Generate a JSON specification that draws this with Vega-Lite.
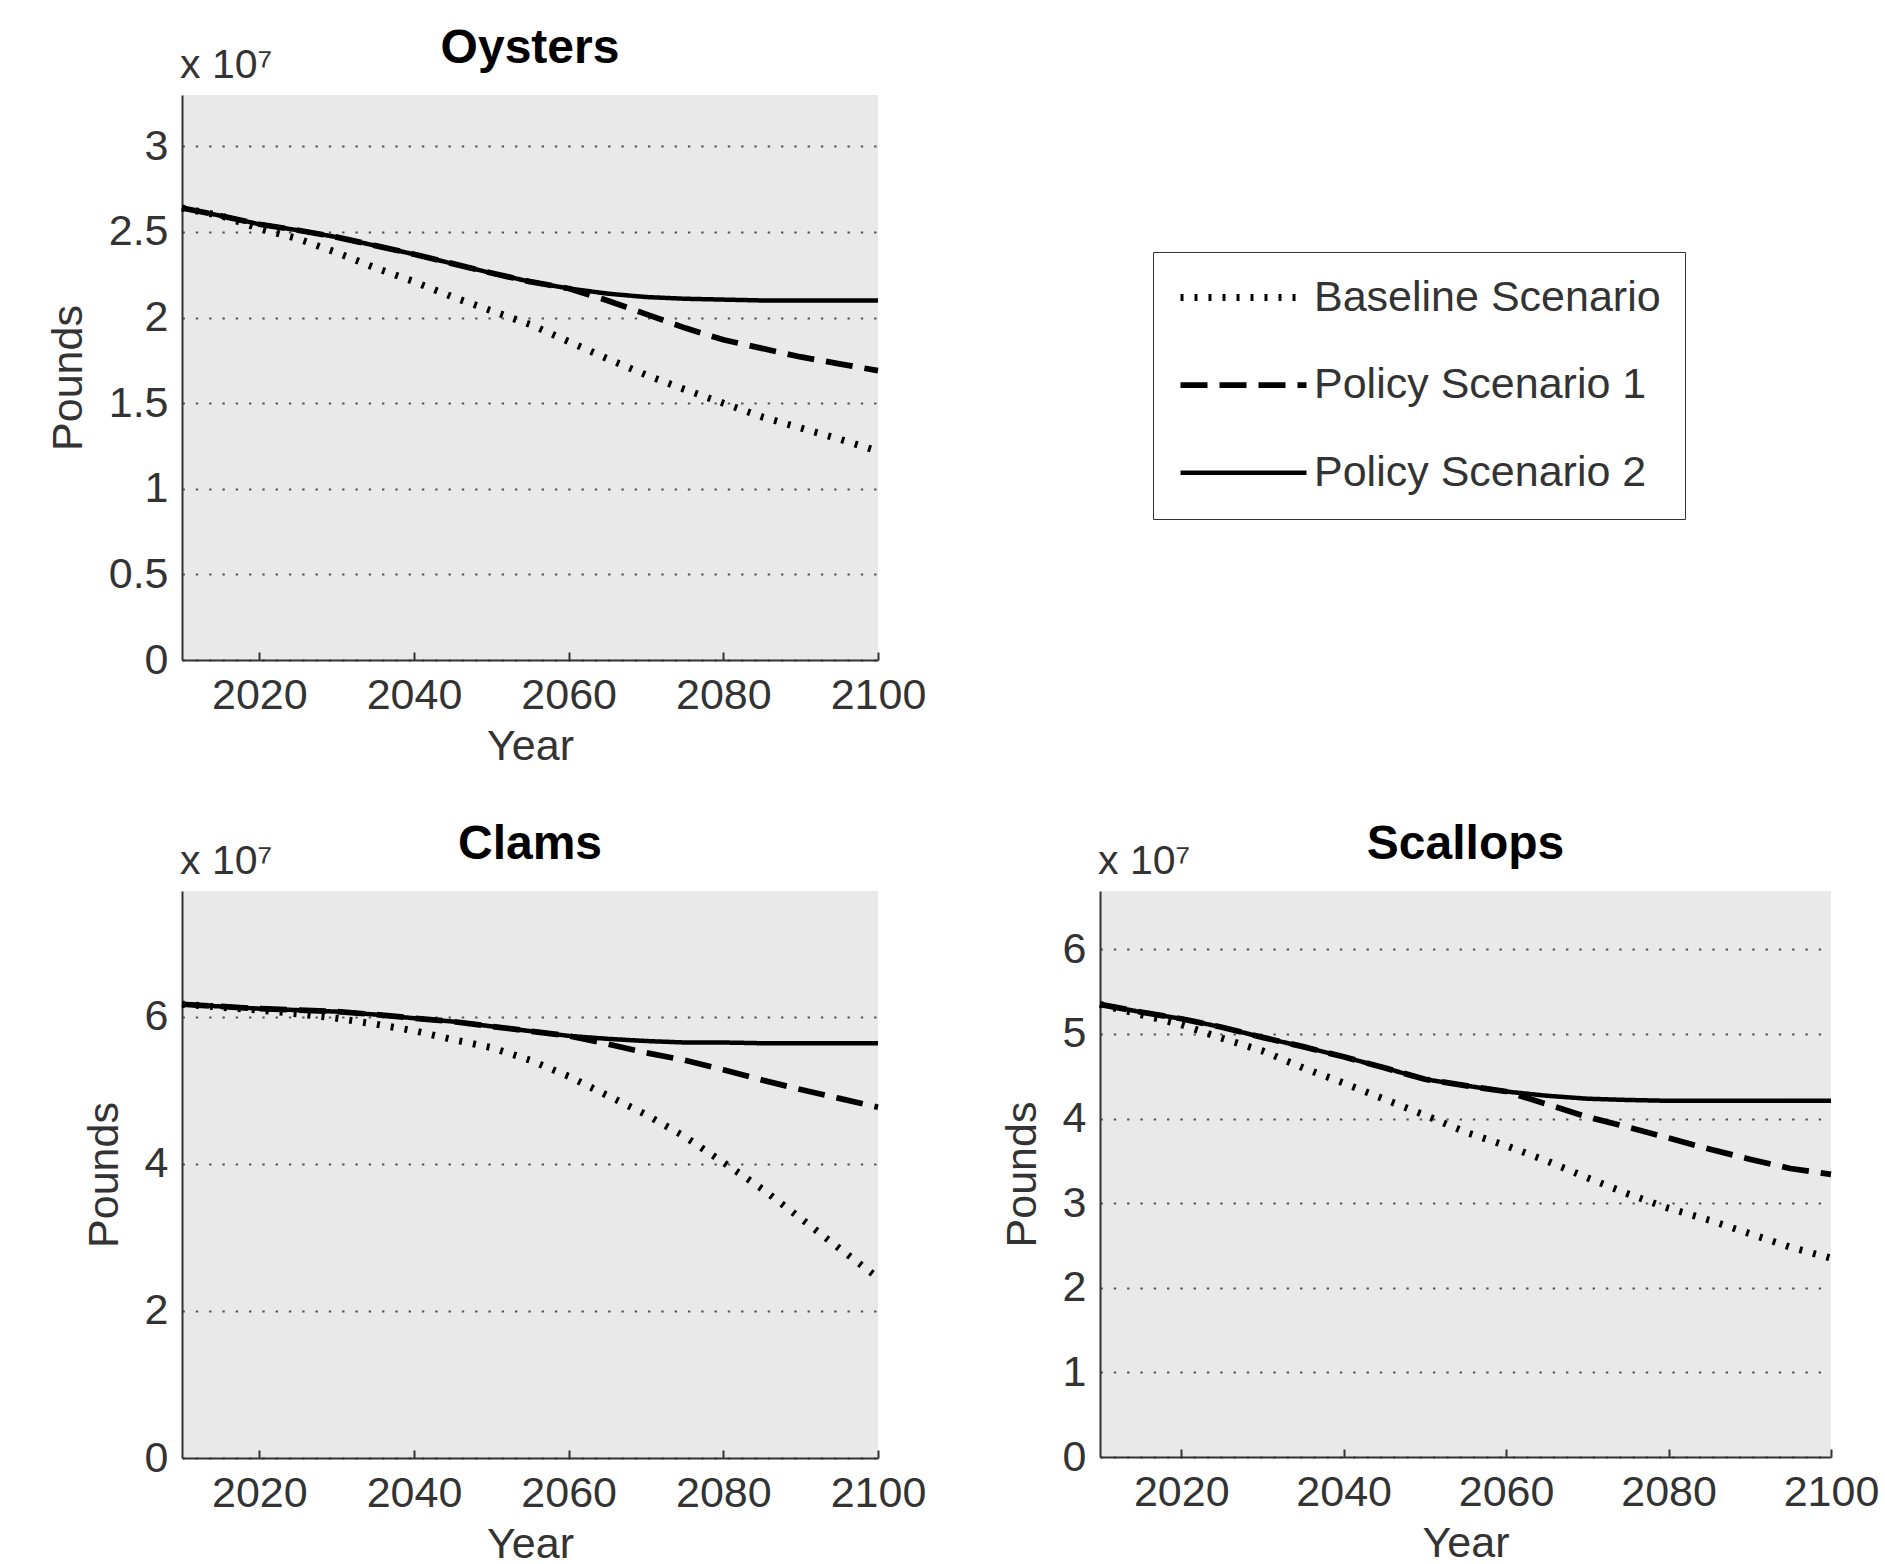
{
  "$schema": "https://vega.github.io/schema/vega-lite/v6.json",
  "background": "white",
  "padding": {"left": 47, "top": 25, "right": 5, "bottom": 5},
  "config": {
    "font": "Liberation Sans",
    "view": {"fill": "#e9e9e9", "stroke": null},
    "axis": {
      "labelFontSize": 43, "titleFontSize": 43, "titleFontWeight": "normal",
      "labelColor": "#333", "titleColor": "#333", "labelFont": "Liberation Sans", "titleFont": "Liberation Sans",
      "domainColor": "#333", "domainWidth": 2, "tickColor": "#333", "tickWidth": 2,
      "labelFlush": false, "labelOverlap": false, "grid": false
    },
    "axisX": {"ticks": true, "tickSize": -8, "labelPadding": 22, "titlePadding": 8},
    "axisY": {"ticks": false, "labelPadding": 14, "titlePadding": 18, "grid": true, "gridDash": [2.4, 10.9], "gridColor": "#555", "gridWidth": 2.2},
    "title": {"fontSize": 48, "fontWeight": "bold", "color": "black", "font": "Liberation Sans", "frame": "group", "offset": -28},
    "line": {"color": "black", "strokeCap": "butt"}
  },
  "datasets": {
    "note": [{"label": "x 10⁷"}],
    "series": [
      {"species": "Oysters", "scenario": "Baseline Scenario", "year": 2010, "pounds": 2.64},
      {"species": "Oysters", "scenario": "Baseline Scenario", "year": 2015, "pounds": 2.595},
      {"species": "Oysters", "scenario": "Baseline Scenario", "year": 2020, "pounds": 2.52},
      {"species": "Oysters", "scenario": "Baseline Scenario", "year": 2025, "pounds": 2.46},
      {"species": "Oysters", "scenario": "Baseline Scenario", "year": 2030, "pounds": 2.38},
      {"species": "Oysters", "scenario": "Baseline Scenario", "year": 2035, "pounds": 2.29},
      {"species": "Oysters", "scenario": "Baseline Scenario", "year": 2040, "pounds": 2.21},
      {"species": "Oysters", "scenario": "Baseline Scenario", "year": 2045, "pounds": 2.12},
      {"species": "Oysters", "scenario": "Baseline Scenario", "year": 2050, "pounds": 2.04},
      {"species": "Oysters", "scenario": "Baseline Scenario", "year": 2055, "pounds": 1.96},
      {"species": "Oysters", "scenario": "Baseline Scenario", "year": 2060, "pounds": 1.86},
      {"species": "Oysters", "scenario": "Baseline Scenario", "year": 2065, "pounds": 1.76},
      {"species": "Oysters", "scenario": "Baseline Scenario", "year": 2070, "pounds": 1.665},
      {"species": "Oysters", "scenario": "Baseline Scenario", "year": 2075, "pounds": 1.58},
      {"species": "Oysters", "scenario": "Baseline Scenario", "year": 2080, "pounds": 1.5},
      {"species": "Oysters", "scenario": "Baseline Scenario", "year": 2085, "pounds": 1.42},
      {"species": "Oysters", "scenario": "Baseline Scenario", "year": 2090, "pounds": 1.355},
      {"species": "Oysters", "scenario": "Baseline Scenario", "year": 2095, "pounds": 1.29},
      {"species": "Oysters", "scenario": "Baseline Scenario", "year": 2100, "pounds": 1.22},
      {"species": "Oysters", "scenario": "Policy Scenario 1", "year": 2010, "pounds": 2.64},
      {"species": "Oysters", "scenario": "Policy Scenario 1", "year": 2015, "pounds": 2.595},
      {"species": "Oysters", "scenario": "Policy Scenario 1", "year": 2020, "pounds": 2.545},
      {"species": "Oysters", "scenario": "Policy Scenario 1", "year": 2025, "pounds": 2.51},
      {"species": "Oysters", "scenario": "Policy Scenario 1", "year": 2030, "pounds": 2.47},
      {"species": "Oysters", "scenario": "Policy Scenario 1", "year": 2035, "pounds": 2.42},
      {"species": "Oysters", "scenario": "Policy Scenario 1", "year": 2040, "pounds": 2.37},
      {"species": "Oysters", "scenario": "Policy Scenario 1", "year": 2045, "pounds": 2.315},
      {"species": "Oysters", "scenario": "Policy Scenario 1", "year": 2050, "pounds": 2.26},
      {"species": "Oysters", "scenario": "Policy Scenario 1", "year": 2055, "pounds": 2.21},
      {"species": "Oysters", "scenario": "Policy Scenario 1", "year": 2060, "pounds": 2.17},
      {"species": "Oysters", "scenario": "Policy Scenario 1", "year": 2065, "pounds": 2.1},
      {"species": "Oysters", "scenario": "Policy Scenario 1", "year": 2070, "pounds": 2.02},
      {"species": "Oysters", "scenario": "Policy Scenario 1", "year": 2075, "pounds": 1.94},
      {"species": "Oysters", "scenario": "Policy Scenario 1", "year": 2080, "pounds": 1.87},
      {"species": "Oysters", "scenario": "Policy Scenario 1", "year": 2085, "pounds": 1.82},
      {"species": "Oysters", "scenario": "Policy Scenario 1", "year": 2090, "pounds": 1.77},
      {"species": "Oysters", "scenario": "Policy Scenario 1", "year": 2095, "pounds": 1.73},
      {"species": "Oysters", "scenario": "Policy Scenario 1", "year": 2100, "pounds": 1.69},
      {"species": "Oysters", "scenario": "Policy Scenario 2", "year": 2010, "pounds": 2.64},
      {"species": "Oysters", "scenario": "Policy Scenario 2", "year": 2015, "pounds": 2.595},
      {"species": "Oysters", "scenario": "Policy Scenario 2", "year": 2020, "pounds": 2.545},
      {"species": "Oysters", "scenario": "Policy Scenario 2", "year": 2025, "pounds": 2.51},
      {"species": "Oysters", "scenario": "Policy Scenario 2", "year": 2030, "pounds": 2.47},
      {"species": "Oysters", "scenario": "Policy Scenario 2", "year": 2035, "pounds": 2.42},
      {"species": "Oysters", "scenario": "Policy Scenario 2", "year": 2040, "pounds": 2.37},
      {"species": "Oysters", "scenario": "Policy Scenario 2", "year": 2045, "pounds": 2.315},
      {"species": "Oysters", "scenario": "Policy Scenario 2", "year": 2050, "pounds": 2.26},
      {"species": "Oysters", "scenario": "Policy Scenario 2", "year": 2055, "pounds": 2.21},
      {"species": "Oysters", "scenario": "Policy Scenario 2", "year": 2060, "pounds": 2.17},
      {"species": "Oysters", "scenario": "Policy Scenario 2", "year": 2065, "pounds": 2.14},
      {"species": "Oysters", "scenario": "Policy Scenario 2", "year": 2070, "pounds": 2.12},
      {"species": "Oysters", "scenario": "Policy Scenario 2", "year": 2075, "pounds": 2.11},
      {"species": "Oysters", "scenario": "Policy Scenario 2", "year": 2080, "pounds": 2.105},
      {"species": "Oysters", "scenario": "Policy Scenario 2", "year": 2085, "pounds": 2.1},
      {"species": "Oysters", "scenario": "Policy Scenario 2", "year": 2090, "pounds": 2.1},
      {"species": "Oysters", "scenario": "Policy Scenario 2", "year": 2095, "pounds": 2.1},
      {"species": "Oysters", "scenario": "Policy Scenario 2", "year": 2100, "pounds": 2.1},
      {"species": "Clams", "scenario": "Baseline Scenario", "year": 2010, "pounds": 6.17},
      {"species": "Clams", "scenario": "Baseline Scenario", "year": 2015, "pounds": 6.13},
      {"species": "Clams", "scenario": "Baseline Scenario", "year": 2020, "pounds": 6.09},
      {"species": "Clams", "scenario": "Baseline Scenario", "year": 2025, "pounds": 6.04},
      {"species": "Clams", "scenario": "Baseline Scenario", "year": 2030, "pounds": 5.98},
      {"species": "Clams", "scenario": "Baseline Scenario", "year": 2035, "pounds": 5.9},
      {"species": "Clams", "scenario": "Baseline Scenario", "year": 2040, "pounds": 5.81},
      {"species": "Clams", "scenario": "Baseline Scenario", "year": 2045, "pounds": 5.69},
      {"species": "Clams", "scenario": "Baseline Scenario", "year": 2050, "pounds": 5.58},
      {"species": "Clams", "scenario": "Baseline Scenario", "year": 2055, "pounds": 5.41},
      {"species": "Clams", "scenario": "Baseline Scenario", "year": 2060, "pounds": 5.19},
      {"species": "Clams", "scenario": "Baseline Scenario", "year": 2065, "pounds": 4.93},
      {"species": "Clams", "scenario": "Baseline Scenario", "year": 2070, "pounds": 4.67},
      {"species": "Clams", "scenario": "Baseline Scenario", "year": 2075, "pounds": 4.37},
      {"species": "Clams", "scenario": "Baseline Scenario", "year": 2080, "pounds": 4.02},
      {"species": "Clams", "scenario": "Baseline Scenario", "year": 2085, "pounds": 3.66},
      {"species": "Clams", "scenario": "Baseline Scenario", "year": 2090, "pounds": 3.26},
      {"species": "Clams", "scenario": "Baseline Scenario", "year": 2095, "pounds": 2.85},
      {"species": "Clams", "scenario": "Baseline Scenario", "year": 2100, "pounds": 2.45},
      {"species": "Clams", "scenario": "Policy Scenario 1", "year": 2010, "pounds": 6.17},
      {"species": "Clams", "scenario": "Policy Scenario 1", "year": 2015, "pounds": 6.14},
      {"species": "Clams", "scenario": "Policy Scenario 1", "year": 2020, "pounds": 6.11},
      {"species": "Clams", "scenario": "Policy Scenario 1", "year": 2025, "pounds": 6.09},
      {"species": "Clams", "scenario": "Policy Scenario 1", "year": 2030, "pounds": 6.07},
      {"species": "Clams", "scenario": "Policy Scenario 1", "year": 2035, "pounds": 6.03},
      {"species": "Clams", "scenario": "Policy Scenario 1", "year": 2040, "pounds": 5.98},
      {"species": "Clams", "scenario": "Policy Scenario 1", "year": 2045, "pounds": 5.935},
      {"species": "Clams", "scenario": "Policy Scenario 1", "year": 2050, "pounds": 5.87},
      {"species": "Clams", "scenario": "Policy Scenario 1", "year": 2055, "pounds": 5.805},
      {"species": "Clams", "scenario": "Policy Scenario 1", "year": 2060, "pounds": 5.74},
      {"species": "Clams", "scenario": "Policy Scenario 1", "year": 2065, "pounds": 5.63},
      {"species": "Clams", "scenario": "Policy Scenario 1", "year": 2070, "pounds": 5.51},
      {"species": "Clams", "scenario": "Policy Scenario 1", "year": 2075, "pounds": 5.41},
      {"species": "Clams", "scenario": "Policy Scenario 1", "year": 2080, "pounds": 5.28},
      {"species": "Clams", "scenario": "Policy Scenario 1", "year": 2085, "pounds": 5.14},
      {"species": "Clams", "scenario": "Policy Scenario 1", "year": 2090, "pounds": 5.01},
      {"species": "Clams", "scenario": "Policy Scenario 1", "year": 2095, "pounds": 4.89},
      {"species": "Clams", "scenario": "Policy Scenario 1", "year": 2100, "pounds": 4.77},
      {"species": "Clams", "scenario": "Policy Scenario 2", "year": 2010, "pounds": 6.17},
      {"species": "Clams", "scenario": "Policy Scenario 2", "year": 2015, "pounds": 6.14},
      {"species": "Clams", "scenario": "Policy Scenario 2", "year": 2020, "pounds": 6.11},
      {"species": "Clams", "scenario": "Policy Scenario 2", "year": 2025, "pounds": 6.09},
      {"species": "Clams", "scenario": "Policy Scenario 2", "year": 2030, "pounds": 6.07},
      {"species": "Clams", "scenario": "Policy Scenario 2", "year": 2035, "pounds": 6.03},
      {"species": "Clams", "scenario": "Policy Scenario 2", "year": 2040, "pounds": 5.98},
      {"species": "Clams", "scenario": "Policy Scenario 2", "year": 2045, "pounds": 5.935},
      {"species": "Clams", "scenario": "Policy Scenario 2", "year": 2050, "pounds": 5.87},
      {"species": "Clams", "scenario": "Policy Scenario 2", "year": 2055, "pounds": 5.805},
      {"species": "Clams", "scenario": "Policy Scenario 2", "year": 2060, "pounds": 5.74},
      {"species": "Clams", "scenario": "Policy Scenario 2", "year": 2065, "pounds": 5.7},
      {"species": "Clams", "scenario": "Policy Scenario 2", "year": 2070, "pounds": 5.67},
      {"species": "Clams", "scenario": "Policy Scenario 2", "year": 2075, "pounds": 5.65},
      {"species": "Clams", "scenario": "Policy Scenario 2", "year": 2080, "pounds": 5.65},
      {"species": "Clams", "scenario": "Policy Scenario 2", "year": 2085, "pounds": 5.64},
      {"species": "Clams", "scenario": "Policy Scenario 2", "year": 2090, "pounds": 5.64},
      {"species": "Clams", "scenario": "Policy Scenario 2", "year": 2095, "pounds": 5.64},
      {"species": "Clams", "scenario": "Policy Scenario 2", "year": 2100, "pounds": 5.64},
      {"species": "Scallops", "scenario": "Baseline Scenario", "year": 2010, "pounds": 5.35},
      {"species": "Scallops", "scenario": "Baseline Scenario", "year": 2015, "pounds": 5.23},
      {"species": "Scallops", "scenario": "Baseline Scenario", "year": 2020, "pounds": 5.11},
      {"species": "Scallops", "scenario": "Baseline Scenario", "year": 2025, "pounds": 4.95},
      {"species": "Scallops", "scenario": "Baseline Scenario", "year": 2030, "pounds": 4.8},
      {"species": "Scallops", "scenario": "Baseline Scenario", "year": 2035, "pounds": 4.6},
      {"species": "Scallops", "scenario": "Baseline Scenario", "year": 2040, "pounds": 4.42},
      {"species": "Scallops", "scenario": "Baseline Scenario", "year": 2045, "pounds": 4.23},
      {"species": "Scallops", "scenario": "Baseline Scenario", "year": 2050, "pounds": 4.04},
      {"species": "Scallops", "scenario": "Baseline Scenario", "year": 2055, "pounds": 3.84},
      {"species": "Scallops", "scenario": "Baseline Scenario", "year": 2060, "pounds": 3.68},
      {"species": "Scallops", "scenario": "Baseline Scenario", "year": 2065, "pounds": 3.5},
      {"species": "Scallops", "scenario": "Baseline Scenario", "year": 2070, "pounds": 3.3},
      {"species": "Scallops", "scenario": "Baseline Scenario", "year": 2075, "pounds": 3.11},
      {"species": "Scallops", "scenario": "Baseline Scenario", "year": 2080, "pounds": 2.94},
      {"species": "Scallops", "scenario": "Baseline Scenario", "year": 2085, "pounds": 2.8},
      {"species": "Scallops", "scenario": "Baseline Scenario", "year": 2090, "pounds": 2.64},
      {"species": "Scallops", "scenario": "Baseline Scenario", "year": 2095, "pounds": 2.48},
      {"species": "Scallops", "scenario": "Baseline Scenario", "year": 2100, "pounds": 2.35},
      {"species": "Scallops", "scenario": "Policy Scenario 1", "year": 2010, "pounds": 5.35},
      {"species": "Scallops", "scenario": "Policy Scenario 1", "year": 2015, "pounds": 5.26},
      {"species": "Scallops", "scenario": "Policy Scenario 1", "year": 2020, "pounds": 5.18},
      {"species": "Scallops", "scenario": "Policy Scenario 1", "year": 2025, "pounds": 5.08},
      {"species": "Scallops", "scenario": "Policy Scenario 1", "year": 2030, "pounds": 4.96},
      {"species": "Scallops", "scenario": "Policy Scenario 1", "year": 2035, "pounds": 4.85},
      {"species": "Scallops", "scenario": "Policy Scenario 1", "year": 2040, "pounds": 4.73},
      {"species": "Scallops", "scenario": "Policy Scenario 1", "year": 2045, "pounds": 4.6},
      {"species": "Scallops", "scenario": "Policy Scenario 1", "year": 2050, "pounds": 4.465},
      {"species": "Scallops", "scenario": "Policy Scenario 1", "year": 2055, "pounds": 4.39},
      {"species": "Scallops", "scenario": "Policy Scenario 1", "year": 2060, "pounds": 4.32},
      {"species": "Scallops", "scenario": "Policy Scenario 1", "year": 2065, "pounds": 4.17},
      {"species": "Scallops", "scenario": "Policy Scenario 1", "year": 2070, "pounds": 4.02},
      {"species": "Scallops", "scenario": "Policy Scenario 1", "year": 2075, "pounds": 3.9},
      {"species": "Scallops", "scenario": "Policy Scenario 1", "year": 2080, "pounds": 3.77},
      {"species": "Scallops", "scenario": "Policy Scenario 1", "year": 2085, "pounds": 3.64},
      {"species": "Scallops", "scenario": "Policy Scenario 1", "year": 2090, "pounds": 3.52},
      {"species": "Scallops", "scenario": "Policy Scenario 1", "year": 2095, "pounds": 3.41},
      {"species": "Scallops", "scenario": "Policy Scenario 1", "year": 2100, "pounds": 3.34},
      {"species": "Scallops", "scenario": "Policy Scenario 2", "year": 2010, "pounds": 5.35},
      {"species": "Scallops", "scenario": "Policy Scenario 2", "year": 2015, "pounds": 5.26},
      {"species": "Scallops", "scenario": "Policy Scenario 2", "year": 2020, "pounds": 5.18},
      {"species": "Scallops", "scenario": "Policy Scenario 2", "year": 2025, "pounds": 5.08},
      {"species": "Scallops", "scenario": "Policy Scenario 2", "year": 2030, "pounds": 4.96},
      {"species": "Scallops", "scenario": "Policy Scenario 2", "year": 2035, "pounds": 4.85},
      {"species": "Scallops", "scenario": "Policy Scenario 2", "year": 2040, "pounds": 4.73},
      {"species": "Scallops", "scenario": "Policy Scenario 2", "year": 2045, "pounds": 4.6},
      {"species": "Scallops", "scenario": "Policy Scenario 2", "year": 2050, "pounds": 4.465},
      {"species": "Scallops", "scenario": "Policy Scenario 2", "year": 2055, "pounds": 4.39},
      {"species": "Scallops", "scenario": "Policy Scenario 2", "year": 2060, "pounds": 4.32},
      {"species": "Scallops", "scenario": "Policy Scenario 2", "year": 2065, "pounds": 4.27},
      {"species": "Scallops", "scenario": "Policy Scenario 2", "year": 2070, "pounds": 4.235},
      {"species": "Scallops", "scenario": "Policy Scenario 2", "year": 2075, "pounds": 4.22},
      {"species": "Scallops", "scenario": "Policy Scenario 2", "year": 2080, "pounds": 4.21},
      {"species": "Scallops", "scenario": "Policy Scenario 2", "year": 2085, "pounds": 4.21},
      {"species": "Scallops", "scenario": "Policy Scenario 2", "year": 2090, "pounds": 4.21},
      {"species": "Scallops", "scenario": "Policy Scenario 2", "year": 2095, "pounds": 4.21},
      {"species": "Scallops", "scenario": "Policy Scenario 2", "year": 2100, "pounds": 4.21}
    ]
  },
  "bounds": "flush",
  "spacing": 231,
  "resolve": {"scale": {"strokeDash": "independent", "strokeWidth": "independent"}, "legend": {"strokeDash": "independent", "strokeWidth": "independent"}},
  "vconcat": [
    {
      "width": 696, "height": 565,
      "title": {"text": "Oysters"},
      "layer": [
        {
          "data": {"name": "series"},
          "transform": [{"filter": "datum.species === 'Oysters'"}],
          "mark": {"type": "line"},
          "encoding": {
            "x": {"field": "year", "type": "quantitative", "scale": {"domain": [2010, 2100], "nice": false, "zero": false}, "axis": {"values": [2020, 2040, 2060, 2080, 2100], "format": "d", "title": "Year"}},
            "y": {"field": "pounds", "type": "quantitative", "scale": {"domain": [0, 3.3], "nice": false}, "axis": {"values": [0, 0.5, 1, 1.5, 2, 2.5, 3], "format": "~g", "title": "Pounds"}},
            "strokeWidth": {"field": "scenario", "type": "nominal", "scale": {"domain": ["Baseline Scenario", "Policy Scenario 1", "Policy Scenario 2"], "range": [7, 4.5, 4.5]}, "legend": null},
            "strokeDash": {
              "field": "scenario", "type": "nominal",
              "scale": {"domain": ["Baseline Scenario", "Policy Scenario 1", "Policy Scenario 2"], "range": [[3, 11], [27, 12], [1, 0]]},
              "legend": {
                "orient": "none", "legendX": 971, "legendY": 157, "title": null,
                "symbolType": "stroke", "symbolSize": 15876, "symbolStrokeWidth": 4, "symbolStrokeColor": "black",
                "labelFontSize": 43, "labelColor": "#333", "labelFont": "Liberation Sans", "labelOffset": 4, "labelLimit": 600,
                "clipHeight": 43, "rowPadding": 43.6, "padding": 24, "strokeColor": "#333", "fillColor": "white"
              }
            }
          }
        },
        {
          "data": {"name": "note"},
          "mark": {"type": "text", "align": "left", "baseline": "alphabetic", "dx": -2, "dy": -17, "fontSize": 41, "color": "#333", "font": "Liberation Sans"},
          "encoding": {
            "x": {"datum": 2010, "type": "quantitative"},
            "y": {"datum": 3.3, "type": "quantitative"},
            "text": {"field": "label"}
          }
        }
      ]
    },
    {
      "bounds": "flush",
      "spacing": 222,
      "resolve": {"scale": {"strokeDash": "independent", "strokeWidth": "independent"}, "legend": {"strokeDash": "independent", "strokeWidth": "independent"}},
      "hconcat": [
        {
          "width": 696, "height": 567,
          "title": {"text": "Clams"},
          "layer": [
            {
              "data": {"name": "series"},
              "transform": [{"filter": "datum.species === 'Clams'"}],
              "mark": {"type": "line"},
              "encoding": {
                "x": {"field": "year", "type": "quantitative", "scale": {"domain": [2010, 2100], "nice": false, "zero": false}, "axis": {"values": [2020, 2040, 2060, 2080, 2100], "format": "d", "title": "Year"}},
                "y": {"field": "pounds", "type": "quantitative", "scale": {"domain": [0, 7.71], "nice": false}, "axis": {"values": [0, 2, 4, 6], "format": "~g", "title": "Pounds"}},
                "strokeWidth": {"field": "scenario", "type": "nominal", "scale": {"domain": ["Baseline Scenario", "Policy Scenario 1", "Policy Scenario 2"], "range": [7, 4.5, 4.5]}, "legend": null},
                "strokeDash": {
                  "field": "scenario", "type": "nominal",
                  "scale": {"domain": ["Baseline Scenario", "Policy Scenario 1", "Policy Scenario 2"], "range": [[3, 11], [27, 12], [1, 0]]},
                  "legend": null
                }
              }
            },
            {
              "data": {"name": "note"},
              "mark": {"type": "text", "align": "left", "baseline": "alphabetic", "dx": -2, "dy": -17, "fontSize": 41, "color": "#333", "font": "Liberation Sans"},
              "encoding": {
                "x": {"datum": 2010, "type": "quantitative"},
                "y": {"datum": 7.71, "type": "quantitative"},
                "text": {"field": "label"}
              }
            }
          ]
        },
        {
          "width": 731, "height": 566,
          "title": {"text": "Scallops"},
          "layer": [
            {
              "data": {"name": "series"},
              "transform": [{"filter": "datum.species === 'Scallops'"}],
              "mark": {"type": "line"},
              "encoding": {
                "x": {"field": "year", "type": "quantitative", "scale": {"domain": [2010, 2100], "nice": false, "zero": false}, "axis": {"values": [2020, 2040, 2060, 2080, 2100], "format": "d", "title": "Year"}},
                "y": {"field": "pounds", "type": "quantitative", "scale": {"domain": [0, 6.69], "nice": false}, "axis": {"values": [0, 1, 2, 3, 4, 5, 6], "format": "~g", "title": "Pounds"}},
                "strokeWidth": {"field": "scenario", "type": "nominal", "scale": {"domain": ["Baseline Scenario", "Policy Scenario 1", "Policy Scenario 2"], "range": [7, 4.5, 4.5]}, "legend": null},
                "strokeDash": {
                  "field": "scenario", "type": "nominal",
                  "scale": {"domain": ["Baseline Scenario", "Policy Scenario 1", "Policy Scenario 2"], "range": [[3, 11], [27, 12], [1, 0]]},
                  "legend": null
                }
              }
            },
            {
              "data": {"name": "note"},
              "mark": {"type": "text", "align": "left", "baseline": "alphabetic", "dx": -2, "dy": -17, "fontSize": 41, "color": "#333", "font": "Liberation Sans"},
              "encoding": {
                "x": {"datum": 2010, "type": "quantitative"},
                "y": {"datum": 6.69, "type": "quantitative"},
                "text": {"field": "label"}
              }
            }
          ]
        }
      ]
    }
  ]
}
